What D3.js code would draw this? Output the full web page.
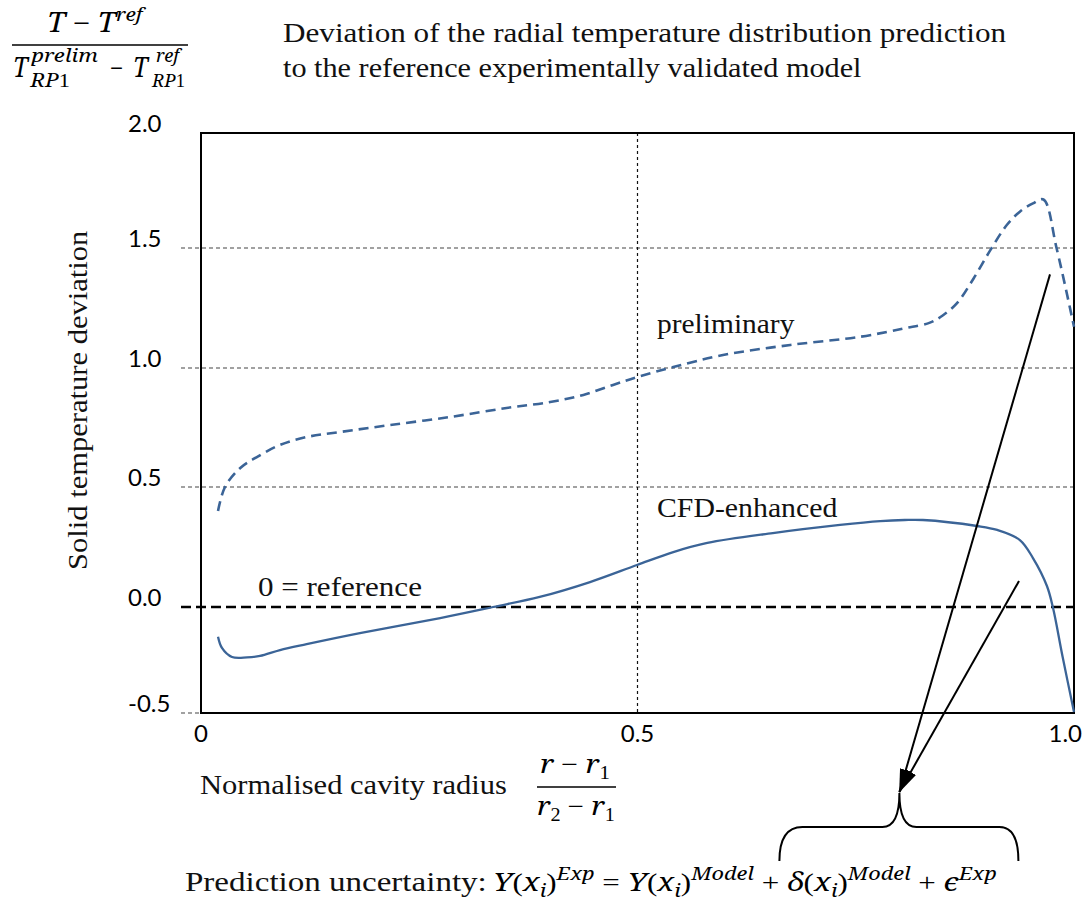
<!DOCTYPE html>
<html>
<head>
<meta charset="utf-8">
<script src="https://cdn.jsdelivr.net/npm/d3@7/dist/d3.min.js"></script>
<style>
  html, body { margin: 0; padding: 0; background: #fff; }
  svg { display: block; }
  text { white-space: pre; }
</style>
</head>
<body>
<svg id="chart" width="1086" height="906"></svg>
<script>
// Preliminary model: normalised radius and temperature deviation
const prelimRadius = [0.0195, 0.0275, 0.045, 0.064, 0.09, 0.121, 0.159, 0.216, 0.285, 0.35, 0.40, 0.438,
  0.472, 0.50, 0.541, 0.598, 0.675, 0.755, 0.805, 0.835, 0.850, 0.866, 0.885, 0.904, 0.923, 0.938,
  0.953, 0.965, 0.980, 1.0];
const prelimDeviation = [0.40, 0.50, 0.58, 0.626, 0.676, 0.71, 0.731, 0.76, 0.794, 0.832, 0.857, 0.887,
  0.929, 0.962, 1.004, 1.054, 1.096, 1.13, 1.165, 1.189, 1.22, 1.27, 1.373, 1.49, 1.60, 1.658,
  1.694, 1.711, 1.50, 1.172];

// CFD-enhanced model: normalised radius and temperature deviation
const cfdRadius = [0.0195, 0.024, 0.0355, 0.0527, 0.0676, 0.0905, 0.121, 0.182, 0.274, 0.3345, 0.388,
  0.4456, 0.4994, 0.541, 0.58, 0.655, 0.732, 0.778, 0.806, 0.827, 0.889, 0.912, 0.938, 0.953, 0.969,
  0.976, 0.987, 1.0];
const cfdDeviation = [-0.14, -0.193, -0.236, -0.238, -0.231, -0.203, -0.175, -0.123, -0.052, 0.0, 0.042,
  0.104, 0.175, 0.229, 0.267, 0.308, 0.342, 0.358, 0.3625, 0.3625, 0.3375, 0.321, 0.279, 0.204, 0.0875,
  -0.005, -0.236, -0.495];

// Axis ticks
const yTicks = [2.0, 1.5, 1.0, 0.5, 0.0, -0.5];
const yTickLabels = ["2.0", "1.5", "1.0", "0.5", "0.0", "-0.5"];
const xTicks = [0, 0.5, 1.0];
const xTickLabels = ["0", "0.5", "1.0"];
const gridValues = [1.5, 1.0, 0.5, -0.5];
const referenceValue = 0.0;
const midRadius = 0.5;

// Arrow tails (radius, deviation) pointing at the uncertainty brace
const arrowTailRadius = [0.9725, 0.937];
const arrowTailDeviation = [1.39, 0.108];
const arrowTipRadius = 0.8;

const svg = d3.select("#chart");
const W = 1086;
const serif = "'Liberation Serif', 'Times New Roman', serif";
const mathItalic = "'Noto Serif', 'DejaVu Serif', serif";
const sans = "Lato, 'Open Sans', sans-serif";
const blue = "#3b6497";

const plot = { left: 201, right: 1074, top: 133, bottom: 713 };
const x = d3.scaleLinear().domain([0, 1]).range([plot.left, plot.right]);
const y = d3.scaleLinear()
  .domain([-0.5, 0, 0.5, 1, 1.5, 2])
  .range([713, 607, 487, 368, 248, plot.top]);

// Stretch a text element horizontally so it spans [x0, x0 + width]
function fitWidth(sel, x0, width) {
  const bb = sel.node().getBBox();
  const k = width / bb.width;
  sel.attr("transform", `translate(${x0},0) scale(${k},1) translate(${-bb.x},0)`);
  return sel;
}

// Math-style text: italic letters, upright operators/digits, sup- and subscripts
function mathText(parent, px, py, runs, size) {
  const t = parent.append("text")
    .attr("x", px).attr("y", py)
    .attr("font-size", size)
    .attr("fill", "#000");
  let cur = 0;
  runs.forEach(([s, kind]) => {
    const isSup = kind[0] === "s", isSub = kind[0] === "b";
    const off = isSup ? -size * 0.42 : isSub ? size * 0.24 : 0;
    const fs = (isSup || isSub) ? size * 0.7 : size;
    const ital = kind.endsWith("i");
    t.append("tspan")
      .attr("dy", off - cur)
      .attr("font-size", fs)
      .attr("font-family", ital ? mathItalic : serif)
      .attr("font-style", ital ? "italic" : "normal")
      .text(s);
    cur = off;
  });
  return t;
}

function plainText(parent, px, py, s, size) {
  return parent.append("text")
    .attr("x", px).attr("y", py)
    .attr("font-family", serif)
    .attr("font-size", size)
    .attr("fill", "#111")
    .text(s);
}

// ---------- grid ----------
const grid = svg.append("g");
grid.selectAll("line.grid")
  .data(gridValues)
  .join("line")
  .attr("x1", plot.left - 20).attr("x2", plot.right)
  .attr("y1", d => y(d)).attr("y2", d => y(d))
  .attr("stroke", "#444").attr("stroke-width", 1.2)
  .attr("stroke-dasharray", "4,3");

grid.append("line")
  .attr("x1", x(midRadius)).attr("x2", x(midRadius))
  .attr("y1", plot.top).attr("y2", plot.bottom)
  .attr("stroke", "#111").attr("stroke-width", 1.2)
  .attr("stroke-dasharray", "3,3");

grid.append("line")
  .attr("x1", plot.left - 20).attr("x2", plot.right)
  .attr("y1", y(referenceValue)).attr("y2", y(referenceValue))
  .attr("stroke", "#000").attr("stroke-width", 2.4)
  .attr("stroke-dasharray", "10,5");

// ---------- frame ----------
svg.append("rect")
  .attr("x", plot.left).attr("y", plot.top)
  .attr("width", plot.right - plot.left).attr("height", plot.bottom - plot.top)
  .attr("fill", "none").attr("stroke", "#000").attr("stroke-width", 2);

// ---------- series ----------
const line = d3.line()
  .x(d => x(d[0])).y(d => y(d[1]))
  .curve(d3.curveCatmullRom.alpha(0.5));

svg.append("path")
  .datum(prelimRadius.map((r, i) => [r, prelimDeviation[i]]))
  .attr("d", line)
  .attr("fill", "none").attr("stroke", blue).attr("stroke-width", 2.6)
  .attr("stroke-dasharray", "10,6");

svg.append("path")
  .datum(cfdRadius.map((r, i) => [r, cfdDeviation[i]]))
  .attr("d", line)
  .attr("fill", "none").attr("stroke", blue).attr("stroke-width", 2.3);

// ---------- tick labels ----------
svg.selectAll("text.ytick")
  .data(yTicks)
  .join("text")
  .attr("class", "ytick")
  .attr("x", 128).attr("y", d => y(d) - 1)
  .attr("font-family", sans).attr("font-size", 24).attr("fill", "#000")
  .text((d, i) => yTickLabels[i]);

svg.selectAll("text.xtick")
  .data(xTicks)
  .join("text")
  .attr("class", "xtick")
  .attr("y", 742)
  .attr("text-anchor", "middle")
  .attr("font-family", sans).attr("font-size", 24).attr("fill", "#000")
  .text((d, i) => xTickLabels[i])
  .attr("x", function(d) {
    const half = this.getComputedTextLength() / 2;
    return Math.min(x(d), W - half - 4);
  });

// ---------- series labels ----------
fitWidth(plainText(svg, 0, 333, "preliminary", 27), 657, 138);
fitWidth(plainText(svg, 0, 517, "CFD-enhanced", 27), 657, 181);
fitWidth(plainText(svg, 0, 596, "0 = reference", 27), 258, 164);

// ---------- title ----------
fitWidth(plainText(svg, 0, 42, "Deviation of the radial temperature distribution prediction", 27), 283, 724);
fitWidth(plainText(svg, 0, 77, "to the reference experimentally validated model", 27), 283, 579);

// ---------- y axis title ----------
const yTitleG = svg.append("g").attr("transform", "translate(87,400) rotate(-90)");
fitWidth(plainText(yTitleG, 0, 0, "Solid temperature deviation", 27), -170, 340);

// ---------- top-left normalisation formula ----------
fitWidth(mathText(svg, 0, 32, [["T", "i"], [" − ", "u"], ["T", "i"], ["ref", "si"]], 27), 47, 100);
svg.append("line").attr("x1", 12).attr("x2", 188).attr("y1", 45).attr("y2", 45)
  .attr("stroke", "#000").attr("stroke-width", 1.6);
fitWidth(mathText(svg, 0, 77, [["T", "i"]], 27), 13, 17);
fitWidth(mathText(svg, 0, 62, [["prelim", "i"]], 19), 30, 68);
fitWidth(mathText(svg, 0, 87, [["RP", "i"], ["1", "u"]], 19), 29, 41);
fitWidth(mathText(svg, 0, 77, [["−", "u"]], 27), 110, 13);
fitWidth(mathText(svg, 0, 77, [["T", "i"]], 27), 133, 17);
fitWidth(mathText(svg, 0, 62, [["ref", "i"]], 19), 156, 27);
fitWidth(mathText(svg, 0, 87, [["RP", "i"], ["1", "u"]], 19), 151, 34);

// ---------- x axis title ----------
fitWidth(plainText(svg, 0, 794, "Normalised cavity radius", 27), 200, 307);
fitWidth(mathText(svg, 0, 773, [["r", "i"], [" − ", "u"], ["r", "i"], ["1", "bu"]], 26), 540, 70);
svg.append("line").attr("x1", 537).attr("x2", 616).attr("y1", 787).attr("y2", 787)
  .attr("stroke", "#000").attr("stroke-width", 1.6);
fitWidth(mathText(svg, 0, 815, [["r", "i"], ["2", "bu"], [" − ", "u"], ["r", "i"], ["1", "bu"]], 26), 537, 78);

// ---------- prediction uncertainty ----------
fitWidth(plainText(svg, 0, 891, "Prediction uncertainty:", 27), 185, 302);
fitWidth(mathText(svg, 0, 891, [
  ["Y", "i"], ["(", "u"], ["x", "i"], ["i", "bi"], [")", "u"], ["Exp", "si"],
  [" = ", "u"],
  ["Y", "i"], ["(", "u"], ["x", "i"], ["i", "bi"], [")", "u"], ["Model", "si"],
  [" + ", "u"],
  ["δ", "i"], ["(", "u"], ["x", "i"], ["i", "bi"], [")", "u"], ["Model", "si"],
  [" + ", "u"],
  ["ϵ", "i"], ["Exp", "si"]
], 25), 493, 504);

// ---------- arrows and brace ----------
const defs = svg.append("defs");
defs.append("marker")
  .attr("id", "head")
  .attr("markerUnits", "userSpaceOnUse")
  .attr("markerWidth", 24).attr("markerHeight", 12)
  .attr("refX", 23).attr("refY", 6)
  .attr("orient", "auto")
  .append("path").attr("d", "M0,0 L24,6 L0,12 Z").attr("fill", "#000");

const tipX = x(arrowTipRadius), tipY = 792;
svg.selectAll("line.arrow")
  .data(arrowTailRadius)
  .join("line")
  .attr("class", "arrow")
  .attr("x1", d => x(d)).attr("y1", (d, i) => y(arrowTailDeviation[i]))
  .attr("x2", tipX).attr("y2", tipY)
  .attr("stroke", "#000").attr("stroke-width", 2)
  .attr("marker-end", "url(#head)");

const bl = tipX - 120, br = tipX + 119, bm = 827, bb = 861;
const brace = d3.path();
brace.moveTo(bl, bb);
brace.bezierCurveTo(bl, bb - 21, bl + 6, bm, bl + 23, bm);
brace.lineTo(tipX - 17, bm);
brace.bezierCurveTo(tipX - 5, bm, tipX, bm - 12, tipX, tipY + 1);
brace.bezierCurveTo(tipX, bm - 12, tipX + 5, bm, tipX + 17, bm);
brace.lineTo(br - 19, bm);
brace.bezierCurveTo(br - 6, bm, br, bb - 21, br, bb);
svg.append("path").attr("d", brace.toString())
  .attr("fill", "none").attr("stroke", "#000").attr("stroke-width", 2);
</script>
</body>
</html>
